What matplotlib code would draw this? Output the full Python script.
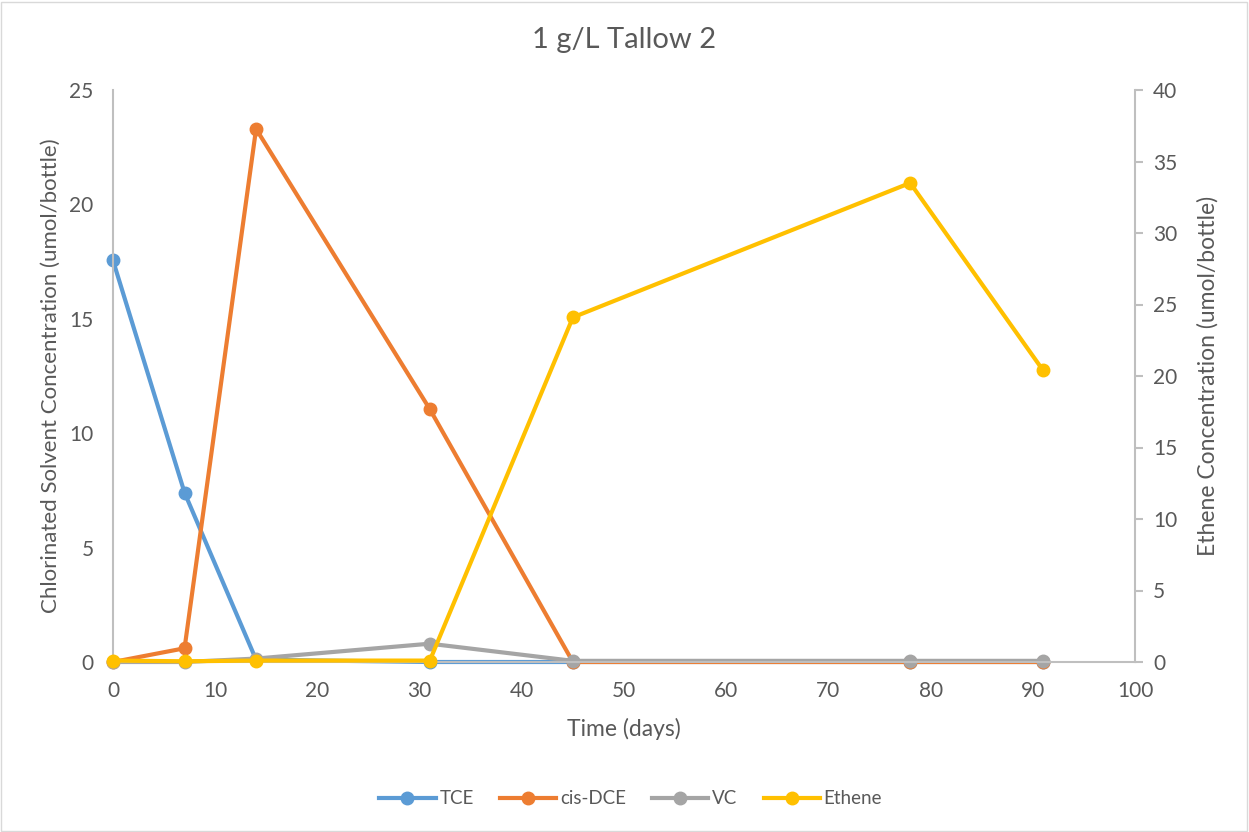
import matplotlib
matplotlib.use("Agg")
import matplotlib.pyplot as plt
from matplotlib.patches import Rectangle

plt.rcParams['font.family'] = ['Lato', 'DejaVu Sans']

# sampling days
days = [0, 7, 14, 31, 45, 78, 91]

# chlorinated solvents (umol/bottle), left axis
tce = [17.55, 7.4, 0.1, 0.0, 0.0, 0.0, 0.0]
cis_dce = [0.0, 0.6, 23.3, 11.05, 0.0, 0.0, 0.0]
vc = [0.0, 0.0, 0.15, 0.8, 0.05, 0.05, 0.05]

# ethene (umol/bottle), right axis
ethene = [0.1, 0.05, 0.1, 0.1, 24.1, 33.5, 20.4]

c_tce = '#5B9BD5'
c_dce = '#ED7D31'
c_vc = '#A5A5A5'
c_eth = '#FFC000'
txt = '#595959'
axc = '#BFBFBF'

fig = plt.figure(figsize=(12.49, 8.32), dpi=100)
ax = fig.add_axes([113/1249, 1 - 662/832, (1135 - 113)/1249, (662 - 90)/832])
ax2 = ax.twinx()

kw = dict(lw=3.0, marker='o', ms=9, solid_joinstyle='round')
l1, = ax.plot(days, tce, color=c_tce, label='TCE', **kw)
l2, = ax.plot(days, cis_dce, color=c_dce, label='cis-DCE', **kw)
l3, = ax.plot(days, vc, color=c_vc, label='VC', **kw)
l4, = ax2.plot(days, ethene, color=c_eth, label='Ethene', **kw)

ax.set_xlim(0, 100)
ax.set_ylim(0, 25)
ax2.set_ylim(0, 40)
ax.set_xticks(range(0, 101, 10))
ax.set_yticks(range(0, 26, 5))
ax2.set_yticks(range(0, 41, 5))

for a in (ax, ax2):
    for s in a.spines.values():
        s.set_visible(False)
    a.set_facecolor('none')
    a.tick_params(colors=txt, labelsize=15)
    for c in a.get_children():
        c.set_clip_on(False)

ax.spines['bottom'].set_visible(True)
ax.spines['bottom'].set_color(axc)
ax.spines['bottom'].set_linewidth(1.5)
ax.spines['left'].set_visible(True)
ax.spines['left'].set_color(axc)
ax.spines['left'].set_linewidth(1.5)
ax2.spines['right'].set_visible(True)
ax2.spines['right'].set_color(axc)
ax2.spines['right'].set_linewidth(1.5)

ax.tick_params(axis='x', length=0, pad=14)
ax.tick_params(axis='y', length=0, pad=14)
ax2.tick_params(axis='y', length=6, width=1.5, color=axc, pad=7)

ax.set_xlabel('Time (days)', color=txt, fontsize=16.5, labelpad=12)
ax.set_ylabel('Chlorinated Solvent Concentration (umol/bottle)', color=txt, fontsize=16, labelpad=6)
ax2.set_ylabel('Ethene Concentration (umol/bottle)', color=txt, fontsize=16.5, labelpad=14)

fig.text(0.5, 1 - 40/832, '1 g/L Tallow 2', ha='center', va='center', color=txt, fontsize=21)

fig.legend([l1, l2, l3, l4], ['TCE', 'cis-DCE', 'VC', 'Ethene'], loc='center',
           bbox_to_anchor=(0.505, 1 - 799/832), ncol=4, frameon=False,
           fontsize=13.5, labelcolor=txt, handlelength=3.0, handletextpad=0.2,
           columnspacing=1.4)

fig.patches.append(Rectangle((0.001, 0.001), 0.997, 0.997, transform=fig.transFigure,
                             fill=False, edgecolor='#D9D9D9', lw=1))

fig.savefig('out.png', dpi=100)
